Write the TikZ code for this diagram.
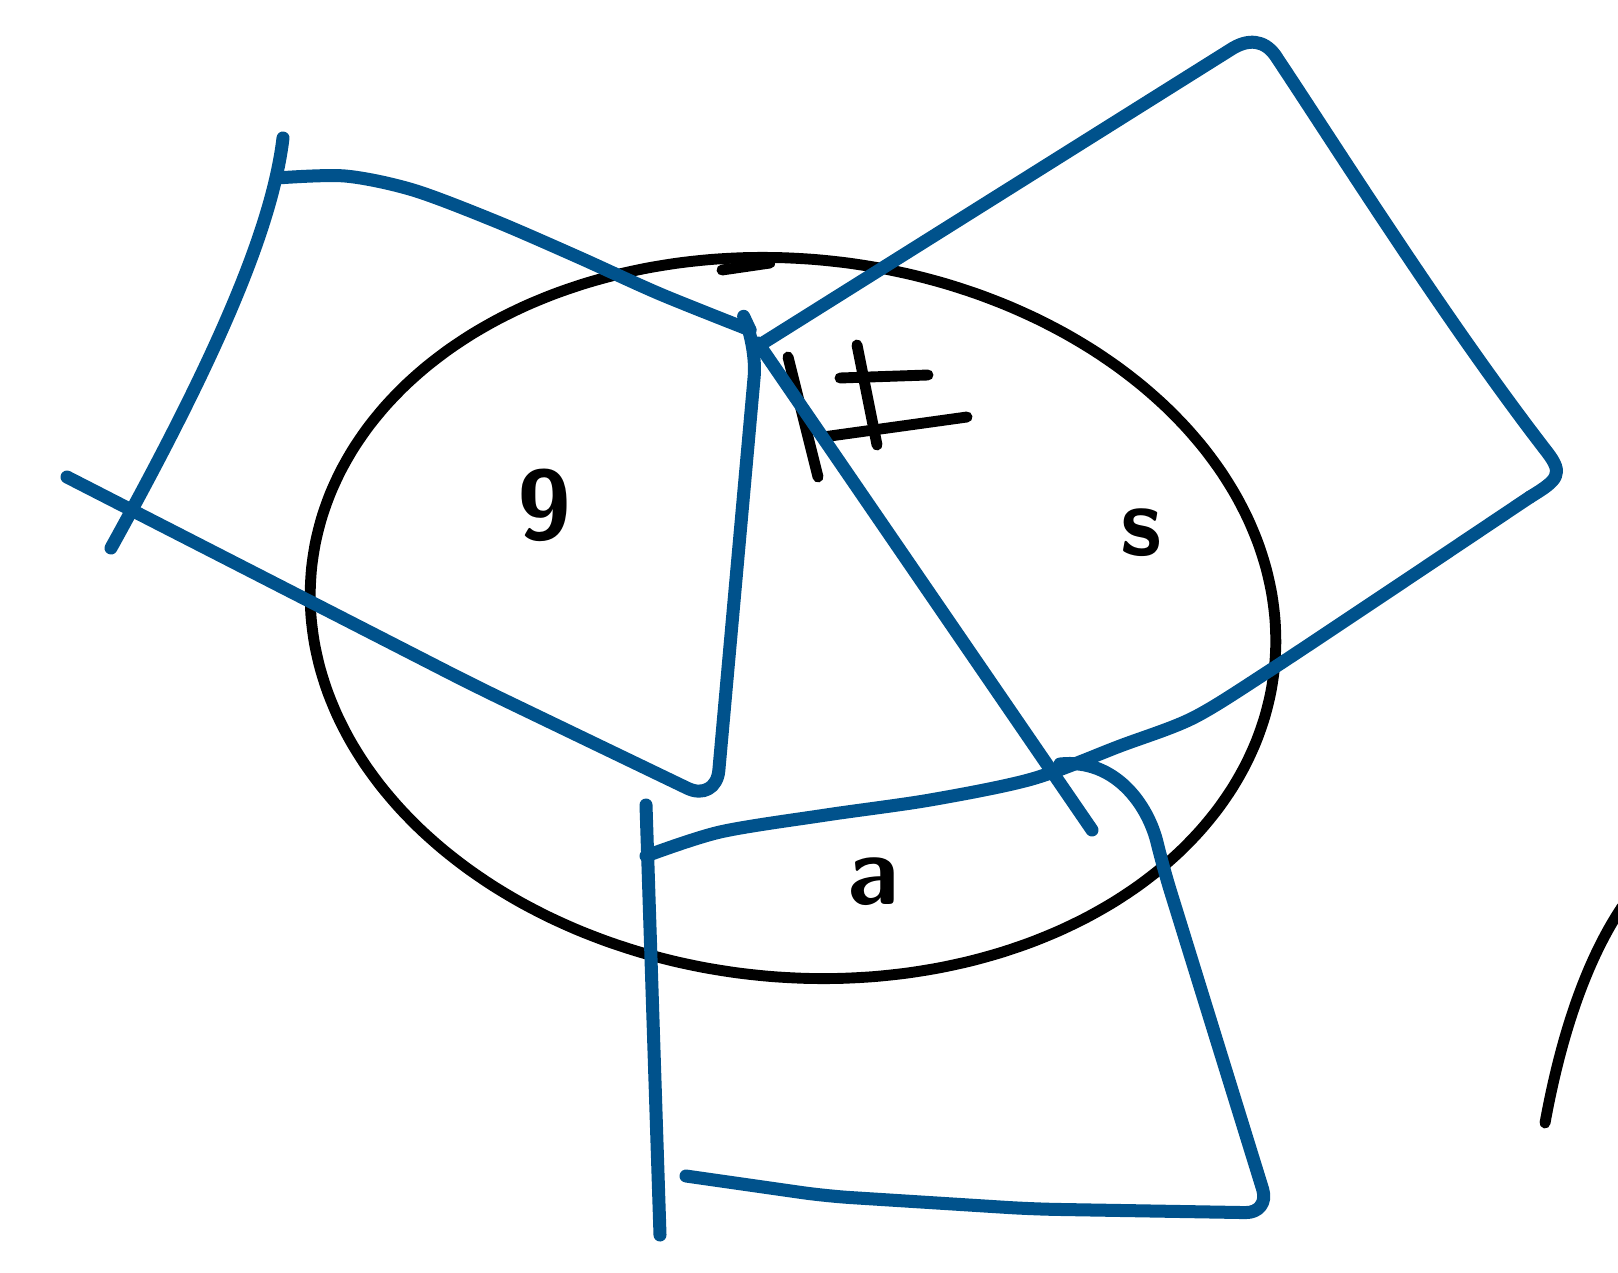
\documentclass[tikz,border=0pt]{standalone}
\usepackage{xcolor}
\usepackage{tikz}
\usetikzlibrary{calc}
\definecolor{penblue}{RGB}{0,82,140}

\begin{document}
\begin{tikzpicture}[x=0.01cm, y=-0.01cm,
		bluepen/.style={draw=penblue, line width=3.7pt, line cap=round, line join=round},
		blackpen/.style={draw=black, line width=3.1pt, line cap=round, line join=round},
		scrawl/.style={font=\sffamily\bfseries\fontsize{28}{28}\selectfont, inner sep=0pt}]
		\useasboundingbox (0,0) rectangle (1618,1273);
		
		% black outline, a tilted ellipse
		\draw[blackpen] plot[domain=0:356, samples=90, smooth cycle, variable=\t]
			({793+484*cos(\t)*cos(6)-359*sin(\t)*sin(6)}, {618+484*cos(\t)*sin(6)+359*sin(\t)*cos(6)});
		\draw[blackpen] (722,270) -- (770,263);
		\draw[blackpen] (1545,1123) .. controls (1562,1030) and (1588,958) .. (1622,907);
		
		% mark near the top
		\draw[blackpen] (788,357) -- (818,477);
		\draw[blackpen] (857,345) -- (877,445);
		\draw[blackpen] (840,378) -- (928,375);
		\draw[blackpen] (823,437) -- (967,417);
		
		\node[scrawl] (nine) at (545,505) {9};
		\node[scrawl] (ess) at (1141,533) {s};
		\node[scrawl] (ay) at (873,882) {a};
		
		% left piece
		\draw[bluepen] (283,138) .. controls (272,230) and (215,360) .. (111,548);
		\draw[bluepen] plot[smooth] coordinates {(277,178) (345,176) (413,190) (495,221) (578,257) (660,294) (750,330)};
		\draw[bluepen, rounded corners=9pt] (750,330) -- (757,345) -- (716,802) -- (475,686) -- (67,477);
		
		% right piece
		\draw[bluepen] (755,348) -- (1230,50) .. controls (1248,38) and (1264,40) .. (1275,55)
			.. controls (1335,145) and (1445,320) .. (1547,452)
			.. controls (1564,474) and (1558,480) .. (1530,497);
		\draw[bluepen] plot[smooth] coordinates {(1530,497) (1400,584) (1269,671) (1193,718) (1120,746)
			(1032,779) (930,800) (826,815) (720,832) (646,856)};
		\draw[bluepen] (758,343) -- (1092,830);
		
		% bottom piece
		\draw[bluepen] (646,805) -- (660,1235);
		\draw[bluepen, rounded corners=7pt] (1060,764) .. controls (1115,758) and (1148,805) .. (1163,867)
			-- (1270,1213) -- (1032,1209) -- (826,1196) -- (686,1176);
	\end{tikzpicture}
\end{document}
